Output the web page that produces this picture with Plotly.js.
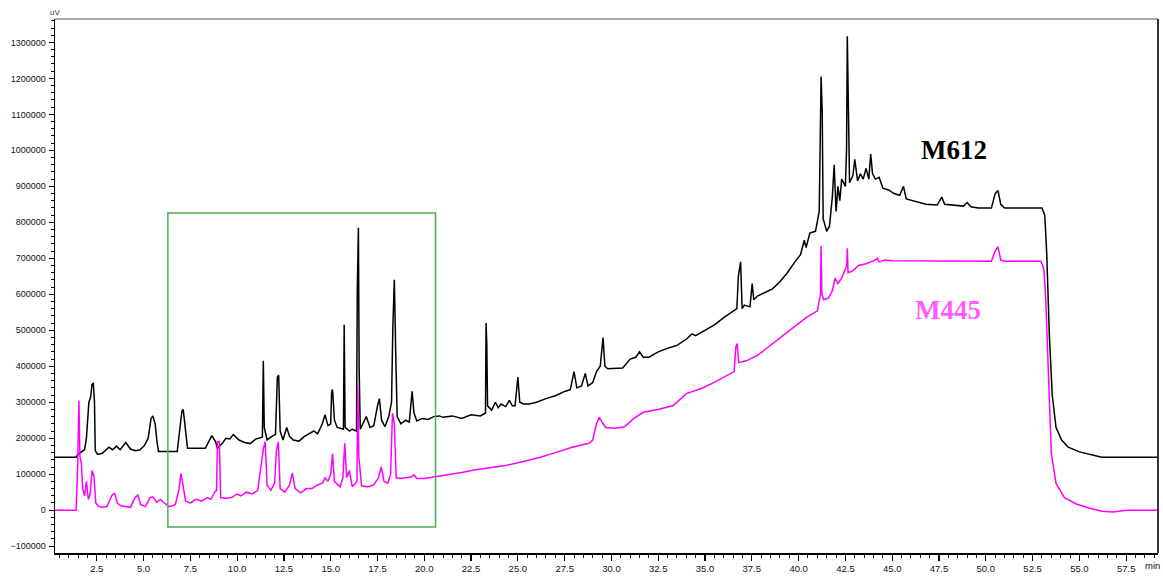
<!DOCTYPE html>
<html>
<head>
<meta charset="utf-8">
<script src="https://cdn.plot.ly/plotly-3.0.1.min.js"></script>
<style>html,body{margin:0;padding:0;background:#fff}#chart{width:1163px;height:576px}</style>
</head>
<body>
<div id="chart"></div>
<script>
// Retention time (min) and detector signal (uV)
const seriesNames = ["M612", "M445"];

const m612Time = [0.27,1.40,1.50,1.65,1.85,1.95,2.02,2.08,2.18,2.25,2.32,2.38,2.42,2.55,2.80,3.00,3.15,3.35,3.55,3.75,4.05,4.30,4.55,4.80,5.05,5.25,5.40,5.50,5.62,5.72,5.80,6.80,6.95,7.05,7.12,7.22,7.35,8.30,8.50,8.65,8.85,8.95,9.20,9.40,9.60,9.80,10.10,10.40,10.70,11.00,11.35,11.40,11.45,11.60,11.85,12.05,12.15,12.22,12.30,12.45,12.65,12.80,13.00,13.30,13.60,13.85,14.10,14.30,14.55,14.70,14.85,15.00,15.05,15.10,15.20,15.35,15.68,15.72,15.77,16.00,16.15,16.38,16.42,16.48,16.52,16.58,16.90,17.10,17.30,17.50,17.60,17.72,17.90,18.10,18.25,18.32,18.40,18.48,18.55,18.75,19.00,19.20,19.35,19.45,19.60,19.90,20.20,20.50,20.80,21.00,21.50,22.00,22.50,23.00,23.27,23.30,23.34,23.38,23.60,23.80,23.95,24.10,24.35,24.55,24.70,24.85,25.00,25.10,25.30,25.60,26.00,26.50,27.00,27.50,27.80,28.00,28.15,28.40,28.60,28.75,29.00,29.20,29.40,29.55,29.65,29.80,30.20,30.60,31.00,31.30,31.50,31.70,32.00,32.50,33.00,33.50,34.00,34.30,34.50,35.00,35.50,36.00,36.50,36.70,36.78,36.90,36.98,37.10,37.40,37.52,37.60,37.80,38.20,38.60,39.00,39.40,39.80,40.10,40.30,40.40,40.60,40.90,41.10,41.16,41.20,41.26,41.31,41.50,41.65,41.80,41.90,42.00,42.10,42.20,42.30,42.50,42.56,42.60,42.66,42.72,42.90,43.00,43.15,43.30,43.45,43.60,43.75,43.85,43.95,44.10,44.30,44.50,44.80,45.10,45.40,45.60,45.75,46.20,46.80,47.40,47.65,47.80,48.40,48.80,49.00,49.20,49.60,50.30,50.50,50.65,50.80,51.00,53.00,53.15,53.25,53.40,53.55,53.75,54.05,54.40,55.00,55.60,56.20,59.20];
const m612Signal = [147000,147000,155000,160000,168000,200000,260000,300000,315000,350000,352000,300000,165000,155000,158000,168000,175000,168000,178000,168000,188000,170000,165000,167000,180000,200000,255000,262000,240000,190000,163000,163000,230000,275000,280000,230000,172000,172000,190000,207000,190000,172000,185000,200000,198000,210000,195000,188000,185000,198000,203000,415000,230000,195000,205000,210000,370000,375000,220000,195000,230000,205000,195000,192000,205000,213000,220000,212000,240000,265000,235000,240000,330000,335000,250000,230000,225000,515000,230000,220000,225000,220000,610000,785000,390000,225000,260000,230000,235000,290000,310000,250000,232000,260000,300000,510000,640000,420000,260000,240000,250000,245000,330000,270000,248000,255000,252000,260000,262000,258000,262000,255000,265000,262000,270000,520000,460000,290000,278000,300000,285000,295000,288000,305000,290000,290000,370000,300000,295000,295000,300000,310000,318000,330000,335000,385000,340000,345000,380000,345000,355000,385000,400000,480000,400000,393000,393000,395000,420000,425000,440000,425000,425000,440000,450000,458000,475000,490000,485000,500000,515000,535000,552000,560000,650000,690000,560000,570000,565000,630000,585000,595000,605000,615000,635000,660000,690000,710000,750000,730000,770000,775000,830000,1000000,1205000,1110000,810000,775000,790000,870000,960000,830000,900000,860000,920000,900000,1000000,1317000,1060000,910000,930000,975000,915000,935000,920000,950000,920000,990000,935000,920000,925000,895000,890000,880000,875000,900000,865000,858000,850000,848000,870000,850000,848000,845000,855000,843000,840000,840000,880000,888000,850000,840000,840000,820000,720000,480000,320000,230000,195000,175000,162000,155000,147000,147000];

const m445Time = [0.27,1.40,1.48,1.55,1.60,1.68,1.75,1.85,1.95,2.05,2.15,2.25,2.35,2.45,2.60,2.80,3.05,3.30,3.45,3.60,3.80,4.05,4.30,4.55,4.70,4.85,5.10,5.35,5.50,5.70,5.90,6.10,6.40,6.70,6.90,7.00,7.10,7.25,7.50,7.80,8.10,8.40,8.60,8.80,8.90,8.95,9.05,9.12,9.40,9.70,10.00,10.20,10.50,10.80,11.10,11.40,11.50,11.60,11.80,12.00,12.10,12.20,12.30,12.55,12.80,12.95,13.10,13.40,13.70,14.00,14.30,14.55,14.70,14.85,15.00,15.10,15.20,15.50,15.65,15.75,15.85,16.00,16.15,16.40,16.45,16.50,16.65,17.00,17.30,17.55,17.70,17.85,18.05,18.20,18.30,18.40,18.50,18.70,19.00,19.30,19.45,19.60,20.00,20.50,21.00,21.50,22.00,22.60,23.50,24.40,25.30,26.20,27.00,27.90,28.80,29.00,29.20,29.35,29.55,29.70,30.20,30.70,31.20,31.70,32.50,33.30,34.00,34.80,35.50,36.20,36.55,36.65,36.72,36.80,37.20,37.80,38.60,39.50,40.40,41.00,41.17,41.20,41.24,41.35,41.60,41.80,41.95,42.10,42.30,42.57,42.60,42.64,42.90,43.20,43.60,44.10,44.20,44.30,44.60,45.00,45.40,46.00,50.30,50.50,50.65,50.80,51.00,52.95,53.10,53.20,53.30,53.40,53.50,53.75,54.20,54.80,55.50,56.20,56.80,57.50,59.20];
const m445Signal = [0,0,120000,305000,150000,130000,60000,40000,80000,30000,45000,110000,95000,20000,10000,8000,10000,40000,48000,20000,12000,10000,8000,35000,42000,15000,10000,35000,37000,22000,30000,20000,10000,15000,60000,102000,70000,25000,20000,30000,25000,35000,30000,50000,55000,190000,190000,35000,33000,35000,45000,40000,50000,45000,55000,170000,190000,70000,55000,75000,165000,190000,60000,50000,70000,103000,60000,48000,60000,60000,70000,75000,90000,80000,100000,157000,80000,65000,90000,186000,90000,110000,65000,80000,345000,150000,67000,65000,70000,90000,120000,80000,75000,100000,270000,240000,90000,88000,90000,92000,98000,88000,88000,92000,95000,100000,105000,111000,118000,125000,135000,147000,160000,175000,186000,195000,240000,258000,240000,230000,228000,232000,255000,272000,280000,291000,324000,338000,355000,375000,385000,455000,463000,410000,415000,430000,463000,499000,535000,554000,600000,735000,600000,585000,590000,610000,645000,630000,645000,680000,728000,660000,665000,680000,685000,695000,700000,690000,695000,693000,693000,692000,692000,720000,732000,695000,692000,692000,670000,590000,435000,286000,158000,75000,35000,18000,6000,-3000,-5000,0,0];

const xTickStep = 2.5;
const yTickStep = 100000;

const traces = [
  {x: m612Time, y: m612Signal, name: seriesNames[0], type: 'scatter', mode: 'lines',
   line: {color: '#000000', width: 1.5}},
  {x: m445Time, y: m445Signal, name: seriesNames[1], type: 'scatter', mode: 'lines',
   line: {color: '#ff00ff', width: 1.5}}
];

const layout = {
  width: 1163, height: 576,
  margin: {l: 55, r: 5, t: 19, b: 23},
  paper_bgcolor: '#ffffff', plot_bgcolor: '#ffffff',
  showlegend: false,
  font: {family: 'Liberation Sans, Arial, sans-serif', size: 9, color: '#111'},
  xaxis: {
    range: [0.27, 59.2], dtick: xTickStep, tick0: 0, tickformat: '.1f',
    showgrid: false, zeroline: false, showline: true, linecolor: '#000', linewidth: 1.5,
    ticks: 'outside', ticklen: 6, tickwidth: 1.2, tickcolor: '#000',
    minor: {dtick: 0.5, ticks: 'outside', ticklen: 3, tickcolor: '#000', tickwidth: 1},
    tickfont: {size: 9.5, color: '#111', family: 'Liberation Sans, Arial, sans-serif'},
    fixedrange: true
  },
  yaxis: {
    range: [-119000, 1365000], dtick: yTickStep, tick0: 0, tickformat: 'd',
    showgrid: false, zeroline: false, showline: true, linecolor: '#000', linewidth: 1.5,
    ticks: 'outside', ticklen: 5, tickwidth: 1.2, tickcolor: '#000',
    minor: {dtick: 20000, ticks: 'outside', ticklen: 3, tickcolor: '#000', tickwidth: 1},
    tickfont: {size: 9, color: '#111', family: 'Liberation Sans, Arial, sans-serif'},
    ticklabelstandoff: 1,
    fixedrange: true
  },
  shapes: [
    {type: 'line', xref: 'paper', yref: 'paper', x0: 0, x1: 1, y0: 1, y1: 1,
     line: {color: '#8c8c8c', width: 1.5}},
    {type: 'line', xref: 'paper', yref: 'paper', x0: 1, x1: 1, y0: 0, y1: 1,
     line: {color: '#333', width: 2}},
    {type: 'rect', xref: 'x', yref: 'y', x0: 6.3, x1: 20.6, y0: -47000, y1: 826000,
     line: {color: '#4caf50', width: 1.5}, fillcolor: 'rgba(0,0,0,0)'}
  ],
  annotations: [
    {text: '<b>' + seriesNames[0] + '</b>', xref: 'x', yref: 'y', x: 48.3, y: 1000000, showarrow: false,
     font: {family: 'Liberation Serif, Times New Roman, serif', size: 27, color: '#000'},
     xanchor: 'center', yanchor: 'middle'},
    {text: '<b>' + seriesNames[1] + '</b>', xref: 'x', yref: 'y', x: 48.0, y: 555000, showarrow: false,
     font: {family: 'Liberation Serif, Times New Roman, serif', size: 27, color: '#ff5cff'},
     xanchor: 'center', yanchor: 'middle'},
    {text: 'uV', xref: 'paper', yref: 'paper', x: 0, y: 1, yshift: 7, showarrow: false,
     font: {size: 8, color: '#333'}, xanchor: 'center', yanchor: 'middle'},
    {text: 'min', xref: 'paper', yref: 'paper', x: 1, y: 0, xshift: -6, yshift: -12, showarrow: false,
     font: {size: 9.5, color: '#111'}, xanchor: 'center', yanchor: 'middle'}
  ]
};

Plotly.newPlot('chart', traces, layout, {displayModeBar: false, staticPlot: true});
</script>
</body>
</html>
